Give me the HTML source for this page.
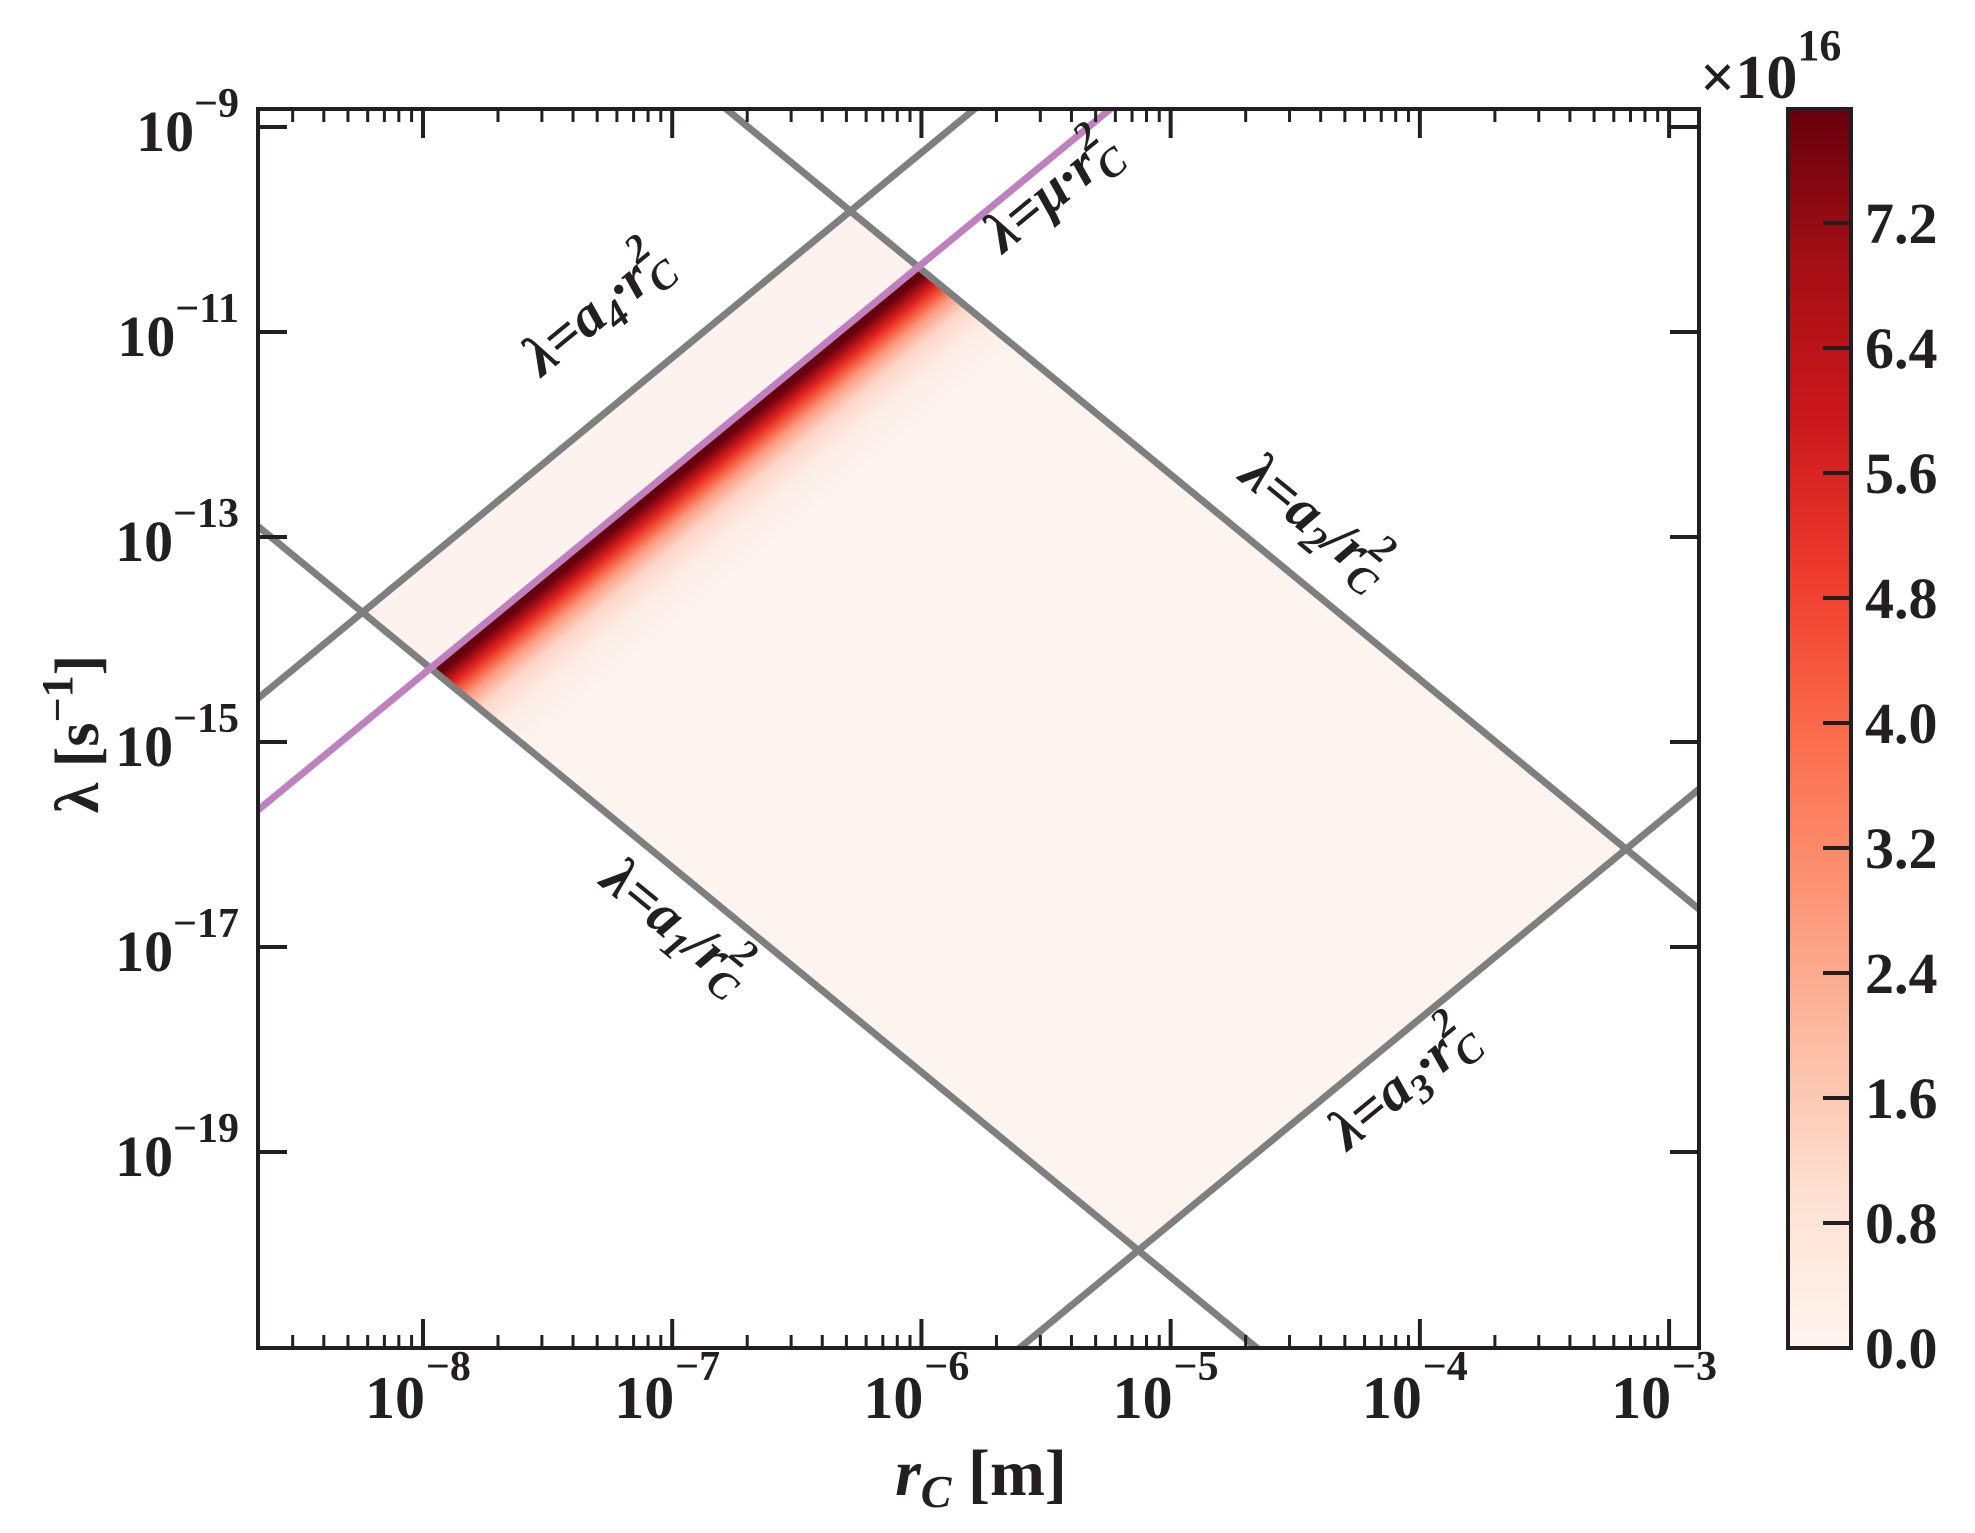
<!DOCTYPE html>
<html><head><meta charset="utf-8"><style>
html{margin:0;padding:0;width:1975px;height:1533px;overflow:hidden}
body{margin:0;padding:0;background:#fff;width:1975px;height:1533px;overflow:hidden;position:relative}
svg{display:block;position:absolute;left:0;top:0}
text{font-family:"Liberation Serif","DejaVu Serif",serif;font-weight:bold;fill:#231f20}
</style></head><body>
<svg id="chart" width="1975" height="1533" viewBox="0 0 1975 1533" xmlns="http://www.w3.org/2000/svg">
<defs>
<clipPath id="plotclip"><rect x="258" y="109" width="1441" height="1239"/></clipPath>
<clipPath id="regionclip"><polygon id="regionpoly" points=""/></clipPath>
<linearGradient id="cbgrad" x1="0" y1="1" x2="0" y2="0">
<stop offset="0" stop-color="#fff5f0"/><stop offset="0.125" stop-color="#fee0d2"/>
<stop offset="0.25" stop-color="#fcbba1"/><stop offset="0.375" stop-color="#fc9272"/>
<stop offset="0.5" stop-color="#fb6a4a"/><stop offset="0.625" stop-color="#ef3b2c"/>
<stop offset="0.75" stop-color="#cb181d"/><stop offset="0.875" stop-color="#a50f15"/>
<stop offset="1" stop-color="#67000d"/>
</linearGradient>
<linearGradient id="bandgrad" gradientUnits="userSpaceOnUse" x1="0" y1="0" x2="1" y2="1">
<stop offset="0" stop-color="#fdf0eb"/>
<stop offset="0.06" stop-color="#fbd0c0"/>
<stop offset="0.08" stop-color="#67000d"/>
<stop offset="0.15" stop-color="#67000d"/>
<stop offset="0.21" stop-color="#a50f15"/>
<stop offset="0.27" stop-color="#e0241f"/>
<stop offset="0.34" stop-color="#f65b40"/>
<stop offset="0.42" stop-color="#fc9c80"/>
<stop offset="0.55" stop-color="#fdd6c8"/>
<stop offset="0.75" stop-color="#fdede7"/>
<stop offset="1" stop-color="#fdf3ef"/>
</linearGradient>
</defs>
<g id="plot"></g>
</svg>
<script>
// ---- chart data ----
const lineNames = ["a1", "a2", "a3", "a4", "mu"];
const lineLogCoeffs = [-30.22, -22.39, -9.70, 2.75, 1.66];
const lineExponents = [-2, -2, 2, 2, 2];
const xTickExps = [-8, -7, -6, -5, -4, -3];
const yTickExps = [-9, -11, -13, -15, -17, -19];
const cbTicks = [0.0, 0.8, 1.6, 2.4, 3.2, 4.0, 4.8, 5.6, 6.4, 7.2];
const cbMax = 7.93;
const xRange = [-8.662, -2.880];
const yRange = [-20.912, -8.824];

const NS = "http://www.w3.org/2000/svg";
const X0 = 258, X1 = 1699, Y0 = 109, Y1 = 1348;
function xs(v) { return X0 + (v - xRange[0]) / (xRange[1] - xRange[0]) * (X1 - X0); }
function ys(v) { return Y1 - (v - yRange[0]) / (yRange[1] - yRange[0]) * (Y1 - Y0); }
const CB_X0 = 1788, CB_X1 = 1851;
function cbs(v) { return Y1 - v / cbMax * (Y1 - Y0); }

const svg = document.getElementById("chart");
const plot = document.getElementById("plot");
function mk(tag, attrs, parent) {
  const e = document.createElementNS(NS, tag);
  for (const k in attrs) e.setAttribute(k, attrs[k]);
  (parent || svg).appendChild(e);
  return e;
}
function coef(n) { return lineLogCoeffs[lineNames.indexOf(n)]; }
function expo(n) { return lineExponents[lineNames.indexOf(n)]; }
function inter(p, m) {
  const x = (coef(m) - coef(p)) / 4; return [x, coef(p) + 2 * x];
}
const verts = [inter("a4", "a1"), inter("a4", "a2"), inter("a3", "a2"), inter("a3", "a1")];
document.getElementById("regionpoly").setAttribute("points", verts.map(v => xs(v[0]) + "," + ys(v[1])).join(" "));

const g = mk("g", { "clip-path": "url(#plotclip)" }, plot);
const region = mk("rect", { x: X0, y: Y0, width: X1 - X0, height: Y1 - Y0, fill: "url(#bandgrad)", "clip-path": "url(#regionclip)" }, g);


(function () {
  const lx = -7, ly = coef("mu") + 2 * lx;
  const px = xs(lx), py = ys(ly);
  const dx = xs(lx + 1) - px, dy = ys(ly + 2) - py;
  const L = Math.hypot(dx, dy);
  const nx = -dy / L, ny = dx / L;
  const gr = document.getElementById("bandgrad");
  gr.setAttribute("x1", px - 10 * nx); gr.setAttribute("y1", py - 10 * ny);
  gr.setAttribute("x2", px + 120 * nx); gr.setAttribute("y2", py + 120 * ny);
})();
(function () {
  const pts = [];
  for (const x of [xRange[0] - 1, xRange[1] + 1]) pts.push([x, coef("mu") + 2 * x]);
  for (const x of [xRange[1] + 1, xRange[0] - 1]) pts.push([x, coef("a4") + 2 * x]);
  const p = mk("polygon", { points: pts.map(v => xs(v[0]) + "," + ys(v[1])).join(" "), fill: "#fdf2ee", "clip-path": "url(#regionclip)" }, g);
  
  
})();
lineNames.forEach((n, i) => {
  const xa = xRange[0] - 1, xb = xRange[1] + 1;
  const l = mk("line", {
    x1: xs(xa), y1: ys(coef(n) + expo(n) * xa), x2: xs(xb), y2: ys(coef(n) + expo(n) * xb),
    stroke: n === "mu" ? "#bf80bf" : "#7f7f7f", "stroke-width": 7
  }, g);
  
  
});
const frame = mk("rect", { x: X0, y: Y0, width: X1 - X0, height: Y1 - Y0, fill: "none", stroke: "#231f20", "stroke-width": 4 }, plot);


for (let d = Math.floor(xRange[0]); d <= Math.ceil(xRange[1]); d++) {
  for (let k = 1; k <= 9; k++) {
    const v = d + Math.log10(k);
    if (v < xRange[0] || v > xRange[1]) continue;
    const x = xs(v), len = k === 1 ? 29 : 13, w = k === 1 ? 4 : 3;
    mk("line", { x1: x, y1: Y1, x2: x, y2: Y1 - len, stroke: "#231f20", "stroke-width": w }, plot);
    mk("line", { x1: x, y1: Y0, x2: x, y2: Y0 + len, stroke: "#231f20", "stroke-width": w }, plot);
  }
}
xTickExps.forEach(e => {
  const x = xs(e);
  const t = mk("text", { x: x - 28, y: 1418, "font-size": 60, "text-anchor": "middle" });
  
  
  t.textContent = "10";
  const s = mk("text", { x: x + 3, y: 1380, "font-size": 42 });
  
  
  s.textContent = "\u2212" + (-e);
});
yTickExps.forEach(e => {
  const y = ys(e);
  mk("line", { x1: X0, y1: y, x2: X0 + 29, y2: y, stroke: "#231f20", "stroke-width": 4 }, plot);
  mk("line", { x1: X1, y1: y, x2: X1 - 29, y2: y, stroke: "#231f20", "stroke-width": 4 }, plot);
  const t = mk("text", { x: 239, y: y + 24, "font-size": 58, "text-anchor": "end" });
  
  
  const a = document.createElementNS(NS, "tspan"); a.textContent = "10"; t.appendChild(a);
  const b = document.createElementNS(NS, "tspan"); b.setAttribute("font-size", 42); b.setAttribute("dy", -34);
  b.textContent = "\u2212" + (-e); t.appendChild(b);
});
const cb = mk("rect", { x: CB_X0, y: Y0, width: CB_X1 - CB_X0, height: Y1 - Y0, fill: "url(#cbgrad)", stroke: "#231f20", "stroke-width": 4 });


cbTicks.forEach(v => {
  const y = cbs(v);
  mk("line", { x1: CB_X1, y1: y, x2: CB_X1 - 28, y2: y, stroke: "#231f20", "stroke-width": 4 });
  const t = mk("text", { x: 1865, y: y + 20, "font-size": 58 });
  
  
  t.textContent = v.toFixed(1);
});
</script>
<svg width="1975" height="1533" viewBox="0 0 1975 1533" xmlns="http://www.w3.org/2000/svg">
<text x="1700" y="98" font-size="62">×10<tspan font-size="44" dy="-38">16</tspan></text>
<text transform="translate(98,734) rotate(-90)" font-size="62" text-anchor="middle">λ [s<tspan font-size="44" dy="-26">−1</tspan><tspan dy="26">]</tspan></text>
<text x="981" y="1495" font-size="66" text-anchor="middle"><tspan font-style="italic">r</tspan><tspan font-style="italic" font-size="46" dy="12">C</tspan><tspan dy="-12"> [m]</tspan></text>
<g font-style="italic" font-size="58">
<text transform="translate(608,323) rotate(-39.4)" text-anchor="middle">λ=a<tspan font-size="40" dy="12">4</tspan><tspan dy="-12">·r</tspan><tspan font-size="40" dy="12">C</tspan><tspan font-size="40" dx="-26" dy="-38">2</tspan></text>
<text transform="translate(1063,205) rotate(-39.4)" text-anchor="middle">λ=μ·r<tspan font-size="40" dy="12">C</tspan><tspan font-size="40" dx="-26" dy="-38">2</tspan></text>
<text transform="translate(1304,534) rotate(39.4)" text-anchor="middle">λ=a<tspan font-size="40" dy="12">2</tspan><tspan dy="-12">/r</tspan><tspan font-size="40" dy="12">C</tspan><tspan font-size="40" dx="-26" dy="-38">2</tspan></text>
<text transform="translate(665,939) rotate(39.4)" text-anchor="middle">λ=a<tspan font-size="40" dy="12">1</tspan><tspan dy="-12">/r</tspan><tspan font-size="40" dy="12">C</tspan><tspan font-size="40" dx="-26" dy="-38">2</tspan></text>
<text transform="translate(1414,1097) rotate(-39.4)" text-anchor="middle">λ=a<tspan font-size="40" dy="12">3</tspan><tspan dy="-12">·r</tspan><tspan font-size="40" dy="12">C</tspan><tspan font-size="40" dx="-26" dy="-38">2</tspan></text>
</g>
</svg>
</body></html>
